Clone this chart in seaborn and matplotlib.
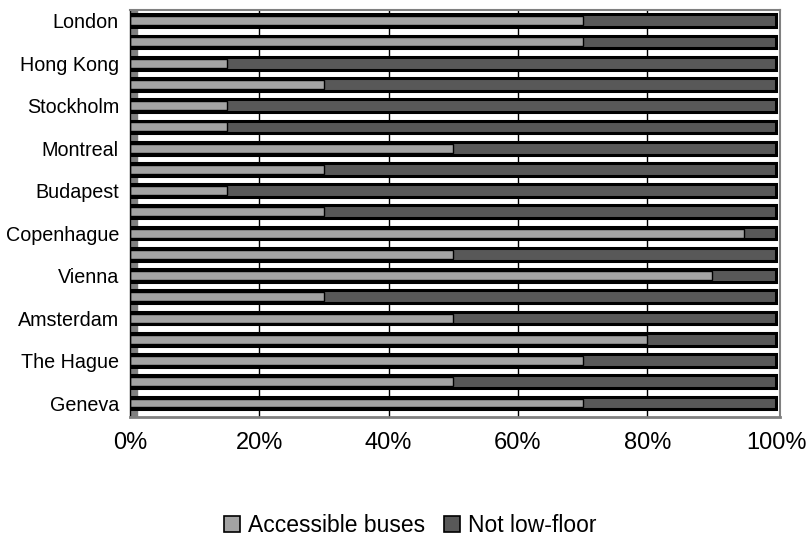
import matplotlib
matplotlib.use("Agg")
import matplotlib.pyplot as plt
import seaborn as sns
import pandas as pd
from matplotlib.patches import Patch

# Data (top to bottom); only every other category is labelled on the axis
labels = ["London", "", "Hong Kong", "", "Stockholm", "", "Montreal", "",
          "Budapest", "", "Copenhague", "", "Vienna", "", "Amsterdam", "",
          "The Hague", "", "Geneva"]
accessible = [70, 70, 15, 30, 15, 15, 50, 30, 15, 30, 95, 50, 90, 30, 50, 80, 70, 50, 70]
not_low_floor = [30, 30, 85, 70, 85, 85, 50, 70, 85, 70, 5, 50, 10, 70, 50, 20, 30, 50, 30]
series_names = ["Accessible buses", "Not low-floor"]
xticks = [0, 20, 40, 60, 80, 100]

df = pd.DataFrame({
    "slot": list(range(len(labels))),
    "accessible": accessible,
    "total": [a + b for a, b in zip(accessible, not_low_floor)],
})

light = "#A3A3A3"
dark = "#585858"

sns.set_style("white")
plt.rcParams["font.family"] = ["Liberation Sans", "DejaVu Sans"]
plt.rcParams["text.color"] = "black"
plt.rcParams["xtick.color"] = "black"
plt.rcParams["ytick.color"] = "black"

fig = plt.figure(figsize=(8.08, 5.39), dpi=100)
ax = fig.add_axes([0.161, 0.2263, 0.804, 0.755])

sns.barplot(data=df, y="slot", x="total", orient="h", color=dark,
            edgecolor="black", linewidth=2.2, width=0.6, ax=ax, saturation=1)
sns.barplot(data=df, y="slot", x="accessible", orient="h", color=light,
            edgecolor="black", linewidth=1.0, width=0.42, ax=ax, saturation=1)

ax.set_xlim(0, 100.5)
ax.set_ylim(18.66, -0.47)

# 3D-like left wall
ax.axvspan(0, 1.0, color="#808080", zorder=0.5)

# gridlines
for v in xticks[1:-1]:
    ax.axvline(v, color="black", lw=1.0, zorder=0.4)

ax.set_xticks(xticks)
ax.set_xticklabels([f"{v}%" for v in xticks], fontsize=17)
ax.tick_params(axis="x", direction="out", length=5, width=1, color="black", pad=6)

# y ticks at category boundaries, labels at every other bar
ax.set_yticks([i - 0.5 for i in range(len(labels) + 1)])
ax.set_yticklabels([])
ax.tick_params(axis="y", which="major", direction="out", length=5, width=1.2, color="black")
lab_pos = [i for i, l in enumerate(labels) if l]
ax.set_yticks(lab_pos, minor=True)
ax.set_yticklabels([labels[i] for i in lab_pos], minor=True, fontsize=14.2)
ax.tick_params(axis="y", which="minor", length=0, pad=8)

ax.set_xlabel("")
ax.set_ylabel("")

for s in ["top", "right"]:
    ax.spines[s].set_color("#808080")
    ax.spines[s].set_linewidth(1.5)
ax.spines["left"].set_color("black")
ax.spines["left"].set_linewidth(1)
ax.spines["bottom"].set_color("#808080")
ax.spines["bottom"].set_linewidth(2)

handles = [Patch(facecolor=light, edgecolor="black", linewidth=1.2),
           Patch(facecolor=dark, edgecolor="black", linewidth=1.2)]
fig.legend(handles, series_names, loc="center", bbox_to_anchor=(0.508, 0.025),
           ncol=2, frameon=False, fontsize=16.5, handlelength=0.7, handleheight=0.7,
           handletextpad=0.35, columnspacing=0.8)

fig.savefig("out.png", dpi=100)
